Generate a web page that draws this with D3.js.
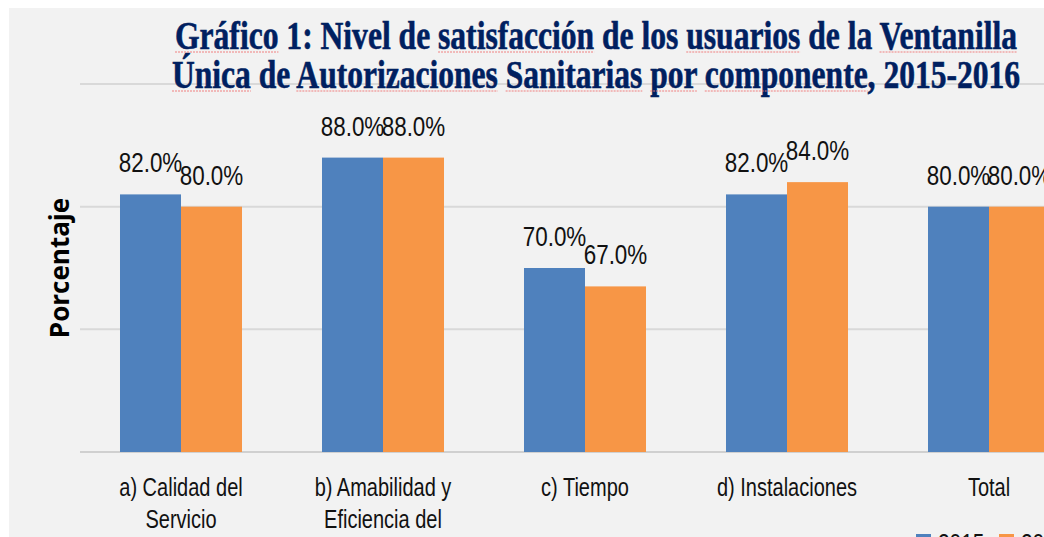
<!DOCTYPE html>
<html>
<head>
<meta charset="utf-8">
<script src="https://cdn.jsdelivr.net/npm/d3@7"></script>
<style>
  body { margin: 0; background: #fff; }
  svg { display: block; }
</style>
</head>
<body>
<svg width="1044" height="537"></svg>
<script>
var categories = ["a) Calidad del Servicio", "b) Amabilidad y Eficiencia del", "c) Tiempo", "d) Instalaciones", "Total"];
var categoryLines = [["a) Calidad del", "Servicio"], ["b) Amabilidad y", "Eficiencia del"], ["c) Tiempo"], ["d) Instalaciones"], ["Total"]];
var years = ["2015", "2016"];
var values2015 = [82, 88, 70, 82, 80];
var values2016 = [80, 88, 67, 84, 80];
var gridTicks = [40, 60, 80, 100];
var titleLines = ["Gráfico 1: Nivel de satisfacción de los usuarios de la Ventanilla",
                  "Única de Autorizaciones Sanitarias por componente, 2015-2016"];
var flagged = ["Gráfico", "satisfacción", "usuarios", "Ventanilla", "Única", "Autorizaciones", "Sanitarias", "por", "componente"];

var svg = d3.select("svg"),
    width = +svg.attr("width"),
    height = +svg.attr("height");

var colors = d3.scaleOrdinal().domain(years).range(["#4f81bd", "#f79646"]);

// panel background
svg.append("rect").attr("x", 9).attr("y", 8).attr("width", width - 9).attr("height", height - 8)
    .attr("fill", "#f2f2f2");

var x = d3.scaleBand().domain(categories).range([80, 1090]).paddingInner(0.396).paddingOuter(0.198);
var xs = d3.scaleBand().domain(years).range([0, x.bandwidth()]);
var y = d3.scaleLinear().domain([40, 100]).range([452, 84]);

// gridlines
svg.append("g").selectAll("line")
    .data(gridTicks).enter().append("line")
    .attr("x1", 80).attr("x2", width)
    .attr("y1", function (d) { return y(d); })
    .attr("y2", function (d) { return y(d); })
    .attr("stroke", function (d) { return d == 40 ? "#d0d0d0" : "#d9d9d9"; })
    .attr("stroke-width", 2);

// text in the picture looks narrow: squeeze it sideways
function squish(k) {
    return function (sel) {
        sel.each(function () {
            var w = this.getComputedTextLength();
            d3.select(this).attr("textLength", w * k).attr("lengthAdjust", "spacingAndGlyphs");
        });
    };
}

// bars
var rows = categories.map(function (c, i) {
    return [{ cat: c, year: "2015", v: values2015[i] }, { cat: c, year: "2016", v: values2016[i] }];
});

var group = svg.append("g").selectAll("g")
    .data(rows).enter().append("g")
    .attr("transform", function (d) { return "translate(" + x(d[0].cat) + ",0)"; });

group.selectAll("rect")
    .data(function (d) { return d; })
    .enter().append("rect")
    .attr("x", function (d) { return xs(d.year); })
    .attr("width", xs.bandwidth())
    .attr("y", function (d) { return y(d.v); })
    .attr("height", function (d) { return y(40) - y(d.v); })
    .attr("fill", function (d) { return colors(d.year); });

group.selectAll("text")
    .data(function (d) { return d; })
    .enter().append("text")
    .attr("x", function (d) { return xs(d.year) + xs.bandwidth() / 2; })
    .attr("y", function (d) { return y(d.v) - 22; })
    .attr("text-anchor", "middle")
    .attr("font-family", "'Liberation Sans', Arial, sans-serif")
    .attr("font-size", 27)
    .attr("fill", "#111")
    .text(function (d) { return d.v.toFixed(1) + "%"; })
    .call(squish(0.83));

// category labels
var catLabel = svg.append("g").selectAll("text")
    .data(categories).enter().append("text")
    .attr("text-anchor", "middle")
    .attr("font-family", "'Liberation Sans', Arial, sans-serif")
    .attr("font-size", 25)
    .attr("fill", "#111");

catLabel.each(function (c, i) {
    var t = d3.select(this);
    categoryLines[i].forEach(function (line, j) {
        t.append("tspan")
            .attr("x", x(c) + x.bandwidth() / 2)
            .attr("y", 496 + j * 32)
            .text(line);
    });
});
catLabel.selectAll("tspan").call(squish(0.8));

// axis title
svg.append("text")
    .attr("transform", "translate(69,268) rotate(-90)")
    .attr("text-anchor", "middle")
    .attr("font-family", "'Open Sans', sans-serif")
    .attr("font-weight", "bold")
    .attr("font-size", 26)
    .attr("fill", "#000")
    .text("Porcentaje");

// title
var title = svg.append("g").selectAll("text")
    .data(titleLines).enter().append("text")
    .attr("x", 596)
    .attr("y", function (d, i) { return 49 + i * 39; })
    .attr("text-anchor", "middle")
    .attr("font-family", "'Liberation Serif', 'Times New Roman', serif")
    .attr("font-weight", "bold")
    .attr("font-size", 40)
    .attr("fill", "#002060")
    .attr("stroke", "#002060")
    .attr("stroke-width", 0.6)
    .text(function (d) { return d; });

var titleWidths = [842, 848];
title.each(function (d, i) {
    d3.select(this).attr("textLength", titleWidths[i]).attr("lengthAdjust", "spacingAndGlyphs");
});

// red spelling marks under some words
title.each(function (d, i) {
    var node = this, base = 49 + i * 39;
    flagged.forEach(function (w) {
        var k = d.indexOf(w);
        if (k < 0) return;
        var x0 = node.getStartPositionOfChar(k).x,
            x1 = node.getEndPositionOfChar(k + w.length - 1).x;
        svg.append("line")
            .attr("x1", x0).attr("x2", x1)
            .attr("y1", base + 3).attr("y2", base + 3)
            .attr("stroke", "#f08080").attr("stroke-width", 1.2)
            .attr("stroke-dasharray", "2,1");
    });
});

// legend (mostly cut by the bottom edge)
var legend = svg.append("g").selectAll("g")
    .data(years).enter().append("g")
    .attr("transform", function (d, i) { return "translate(" + (916 + i * 83) + ",534)"; });
legend.append("rect").attr("width", 15).attr("height", 15)
    .attr("fill", function (d) { return colors(d); });
legend.append("text").attr("x", 22).attr("y", 18)
    .attr("font-family", "'Liberation Sans', Arial, sans-serif")
    .attr("font-size", 26).attr("fill", "#111")
    .text(function (d) { return d; })
    .call(squish(0.8));
</script>
</body>
</html>
